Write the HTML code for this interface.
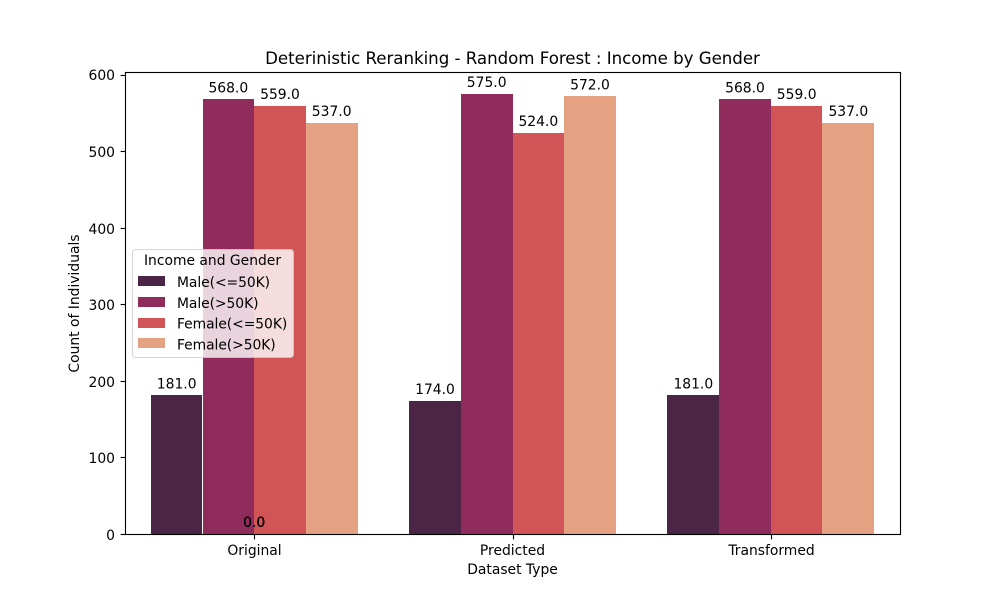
<!DOCTYPE html>
<html>
<head>
<meta charset="utf-8">
<title>Deterinistic Reranking - Random Forest : Income by Gender</title>
<style>
html,body{margin:0;padding:0;background:#fff}
svg{display:block}
text{font-family:"DejaVu Sans","Liberation Sans",sans-serif;fill:#000;font-size:13.89px}
</style>
</head>
<body>
<svg id="chart" width="1000" height="600" viewBox="0 0 1000 600" xmlns="http://www.w3.org/2000/svg">
<rect width="1000" height="600" fill="#fff"/>
<g id="bars"></g>
<g id="labels"></g>
<g id="axes"></g>
<text x="512.5" y="64" text-anchor="middle" style="font-size:16.67px;letter-spacing:-0.035px">Deterinistic Reranking - Random Forest : Income by Gender</text>
<text x="512.5" y="574" text-anchor="middle">Dataset Type</text>
<text x="79" y="303.5" text-anchor="middle" transform="rotate(-90 79 303.5)">Count of Individuals</text>
<g id="legend">
<rect x="132.5" y="249.5" width="161" height="108" rx="3" ry="3" fill="#fff" fill-opacity="0.8" stroke="#ccc" stroke-opacity="0.8"/>
<text x="212.5" y="265" text-anchor="middle">Income and Gender</text>
</g>
</svg>
<script>
const categories = ['Original', 'Predicted', 'Transformed'];
const seriesNames = ['Male(<=50K)', 'Male(>50K)', 'Female(<=50K)', 'Female(>50K)'];
const maleLow = [181, 174, 181];
const maleHigh = [568, 575, 568];
const femaleLow = [559, 524, 559];
const femaleHigh = [537, 572, 537];
const placeholderValues = [0, 0, 0, 0];
const yTicks = [0, 100, 200, 300, 400, 500, 600];
const seriesColors = ['#4a2545', '#8f2c5b', '#d15457', '#e4a282'];

const seriesValues = [maleLow, maleHigh, femaleLow, femaleHigh];
const NS = 'http://www.w3.org/2000/svg';
const plot = { left: 125, right: 900, top: 72, bottom: 534 };
const maxValue = Math.max(...seriesValues.flat());
const yMax = maxValue * 1.05;
const xMin = -0.5;
const xMax = categories.length - 0.5;
const groupWidth = 0.8;

function xScale(v) {
  return plot.left + (v - xMin) / (xMax - xMin) * (plot.right - plot.left);
}
function yScale(v) {
  return plot.bottom - v / yMax * (plot.bottom - plot.top);
}
function snapEdge(v, c, s, isEnd) {
  const clean = Math.round(v * 1000) / 1000;
  const roundDown = c === 2 || (s === 0 && isEnd);
  return roundDown ? Math.ceil(clean - 0.5) : Math.round(clean);
}
function make(tag, attrs, parent, content) {
  const el = document.createElementNS(NS, tag);
  for (const k in attrs) el.setAttribute(k, attrs[k]);
  if (content !== undefined) el.textContent = content;
  parent.appendChild(el);
  return el;
}

const barsG = document.getElementById('bars');
const labelsG = document.getElementById('labels');
const axesG = document.getElementById('axes');
const legendG = document.getElementById('legend');
const barW = groupWidth / seriesValues.length;

seriesValues.forEach(function (values, s) {
  values.forEach(function (value, c) {
    const x0 = snapEdge(xScale(c - groupWidth / 2 + s * barW), c, s, false);
    const x1 = snapEdge(xScale(c - groupWidth / 2 + (s + 1) * barW), c, s, true);
    const yTop = Math.round(yScale(value));
    const bar = make('rect', { x: x0, y: yTop, width: x1 - x0, height: plot.bottom - yTop, fill: seriesColors[s], 'shape-rendering': 'crispEdges' }, barsG);
    
    
    const label = make('text', { x: xScale(c - groupWidth / 2 + (s + 0.5) * barW), y: yScale(value) - 7, 'text-anchor': 'middle' }, labelsG, value.toFixed(1));
    
    
  });
});

placeholderValues.forEach(function (value) {
  const label = make('text', { x: xScale(0), y: yScale(value) - 7, 'text-anchor': 'middle' }, labelsG, value.toFixed(1));
  
  
});

const frame = make('rect', { x: plot.left + 0.5, y: plot.top + 0.5, width: plot.right - plot.left, height: plot.bottom - plot.top, fill: 'none', stroke: '#000', 'stroke-width': 1.11 }, axesG);



yTicks.forEach(function (t) {
  const y = Math.round(yScale(t)) + 0.5;
  const tick = make('line', { x1: plot.left - 4.4, x2: plot.left + 0.5, y1: y, y2: y, stroke: '#000', 'stroke-width': 1.11 }, axesG);
  
  
  const label = make('text', { x: 115, y: Math.round(yScale(t) + 5.6), 'text-anchor': 'end' }, axesG, String(t));
  
  
});

categories.forEach(function (name, c) {
  const x = Math.round(xScale(c)) + 0.5;
  const tick = make('line', { x1: x, x2: x, y1: plot.bottom + 0.5, y2: plot.bottom + 5.4, stroke: '#000', 'stroke-width': 1.11 }, axesG);
  
  
  const label = make('text', { x: Math.floor(xScale(c) + 0.2) + 0.5, y: 555, 'text-anchor': 'middle' }, axesG, name);
  
  
});

seriesNames.forEach(function (name, i) {
  const rowY = 276 + i * 20.8;
  const swatch = make('rect', { x: 138, y: Math.round(rowY), width: 27, height: 10, fill: seriesColors[i], 'shape-rendering': 'crispEdges' }, legendG);
  
  
  const label = make('text', { x: 177, y: rowY + 11, style: 'letter-spacing:-0.06px' }, legendG, name);
  
  
});
</script>
</body>
</html>
